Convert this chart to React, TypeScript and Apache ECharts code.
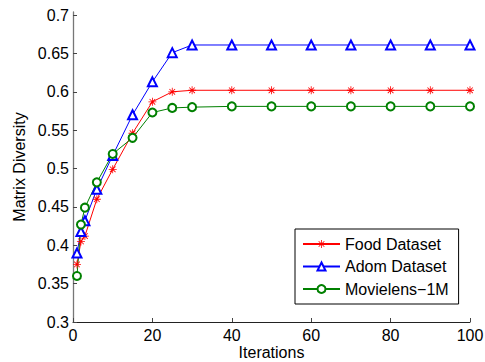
import React, { useEffect, useRef } from "react";
import * as echarts from "echarts";

const iterations = [1, 2, 3, 6, 10, 15, 20, 25, 30, 40, 50, 60, 70, 80, 90, 100];
const foodValues = [0.375, 0.405, 0.412, 0.46, 0.499, 0.546, 0.587, 0.6, 0.602, 0.602, 0.602, 0.602, 0.602, 0.602, 0.602, 0.602];
const adomValues = [0.39, 0.418, 0.432, 0.473, 0.517, 0.57, 0.613, 0.651, 0.661, 0.661, 0.661, 0.661, 0.661, 0.661, 0.661, 0.661];
const movieValues = [0.36, 0.427, 0.449, 0.482, 0.519, 0.54, 0.573, 0.579, 0.58, 0.581, 0.581, 0.581, 0.581, 0.581, 0.581, 0.581];
const yTicks = [0.3, 0.35, 0.4, 0.45, 0.5, 0.55, 0.6, 0.65, 0.7];
const seriesNames = ["Food Dataset", "Adom Dataset", "Movielens\u22121M"];

const STAR =
  "path://M0 9H20V11H0Z M9 0H11V20H9Z M3.6 2.2L17.8 16.4L16.4 17.8L2.2 3.6Z M16.4 2.2L17.8 3.6L3.6 17.8L2.2 16.4Z";

const FONT = "Liberation Sans, Arial, Helvetica, sans-serif";

function pairs(vals: number[]) {
  return iterations.map((x, i) => [x, vals[i]]);
}

export default function App() {
  const ref = useRef<HTMLDivElement>(null);
  useEffect(() => {
    if (!ref.current) return;
    const chart = echarts.init(ref.current, undefined, { renderer: "svg" });
    chart.setOption({
      animation: false,
      backgroundColor: "#fff",
      textStyle: { fontFamily: FONT },
      grid: { left: 73, right: 15, top: 12, bottom: 40, containLabel: false, outerBoundsMode: "none" },
      xAxis: {
        type: "value",
        min: 0,
        max: 100,
        interval: 20,
        name: "Iterations",
        nameLocation: "middle",
        nameGap: 22,
        nameMoveOverlap: false,
        nameTextStyle: { fontSize: 16, color: "#000", fontFamily: FONT, lineHeight: 16 },
        axisLine: { show: true, lineStyle: { color: "#222", width: 1 } },
        axisTick: { show: true, inside: true, length: 4, lineStyle: { color: "#444" } },
        axisLabel: { color: "#000", fontSize: 16, margin: 5, fontFamily: FONT },
        splitLine: { show: false },
      },
      yAxis: {
        type: "value",
        min: 0.3,
        max: 0.704,
        interval: 0.05,
        name: "Matrix Diversity",
        nameLocation: "middle",
        nameGap: 46,
        nameMoveOverlap: false,
        nameTextStyle: { fontSize: 16, color: "#000", fontFamily: FONT },
        axisLine: { show: true, lineStyle: { color: "#777", width: 1.3 } },
        axisTick: { show: true, inside: true, length: 4, lineStyle: { color: "#444" }, customValues: yTicks },
        axisLabel: { color: "#000", fontSize: 16, margin: 4, fontFamily: FONT, customValues: yTicks },
        splitLine: { show: false },
      },
      legend: {
        left: 295,
        top: 229,
        orient: "vertical",
        backgroundColor: "#fff",
        borderColor: "#000",
        borderWidth: 1,
        padding: [7, 10, 7, 7],
        itemWidth: 37,
        itemHeight: 10,
        itemGap: 6.5,
        textStyle: { fontSize: 16, color: "#000", fontFamily: FONT, lineHeight: 16 },
        data: seriesNames,
      },
      series: [
        {
          name: seriesNames[0],
          type: "line",
          data: pairs(foodValues),
          symbol: STAR,
          symbolSize: 8,
          lineStyle: { color: "#ff0000", width: 1 },
          itemStyle: { color: "#ff0000" },
        },
        {
          name: seriesNames[1],
          type: "line",
          data: pairs(adomValues),
          symbol: "emptyTriangle",
          symbolSize: 9,
          lineStyle: { color: "#0000ff", width: 1 },
          itemStyle: { color: "#0000ff", borderWidth: 1 },
        },
        {
          name: seriesNames[2],
          type: "line",
          data: pairs(movieValues),
          symbol: "emptyCircle",
          symbolSize: 8,
          lineStyle: { color: "#008000", width: 1 },
          itemStyle: { color: "#008000", borderWidth: 1 },
        },
      ],
    });
    return () => chart.dispose();
  }, []);
  return <div ref={ref} style={{ width: 485, height: 362, position: "absolute", left: 0, top: 0 }} />;
}
